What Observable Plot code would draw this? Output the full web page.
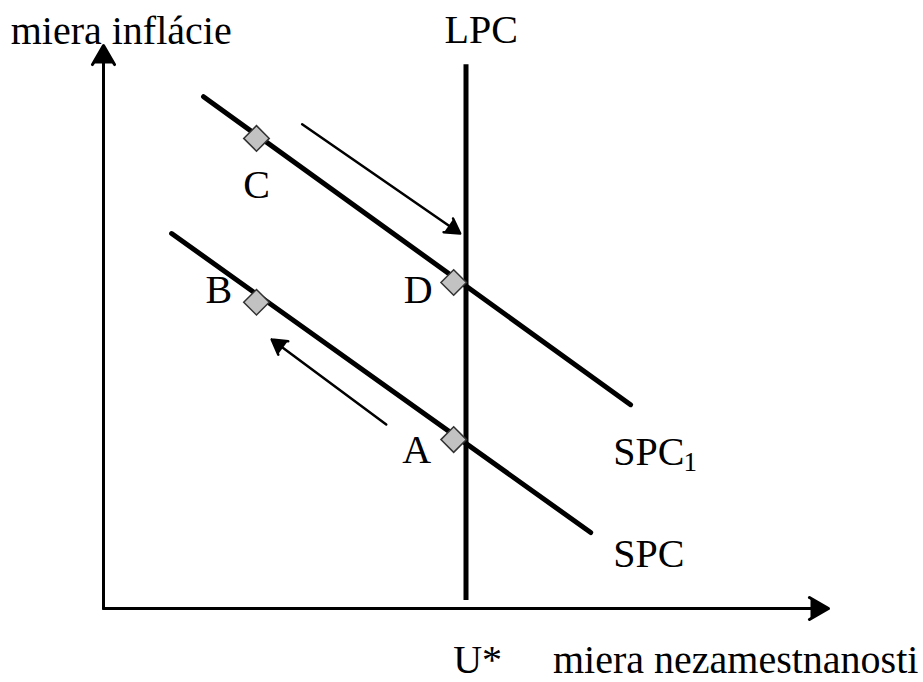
<!DOCTYPE html>
<html>
<head>
<meta charset="utf-8">
<script src="https://cdn.jsdelivr.net/npm/d3@7"></script>
<script src="https://cdn.jsdelivr.net/npm/@observablehq/plot@0.6"></script>
<style>
  html, body { margin: 0; padding: 0; background: #fff; }
  #chart svg { display: block; }
</style>
</head>
<body>
<div id="chart"></div>
<script>
// ---- data (conceptual units: unemployment on x, inflation on y, origin at axis corner) ----
const xDomain = [0, 10];
const yDomain = [0, 10];

const axisSegments = [
  {x1: 0, y1: 0, x2: 10, y2: 0},
  {x1: 0, y1: 0, x2: 0, y2: 10}
];
const lpcLine = [{x: 5.0, y1: 0.14, y2: 9.66}];
const spc1Line = [{x: 1.38, y: 9.09}, {x: 7.27, y: 3.62}];
const spcLine = [{x: 0.94, y: 6.66}, {x: 6.72, y: 1.35}];
const pointNames = ["A", "B", "C", "D"];
const pointX = [4.83, 2.11, 2.11, 4.83];
const pointY = [3.00, 5.44, 8.35, 5.79];
const pointLabelX = [4.32, 1.59, 2.11, 4.34];
const pointLabelY = [2.81, 5.65, 7.51, 5.65];
const moveArrows = [
  {x1: 2.74, y1: 8.60, x2: 4.92, y2: 6.66},
  {x1: 3.90, y1: 3.27, x2: 2.32, y2: 4.78}
];
const curveLabels = [
  {text: "LPC", x: 5.21, y: 10.28, anchor: "middle", size: 40},
  {text: "SPC", x: 7.03, y: 2.77, anchor: "start", size: 40},
  {text: "SPC", x: 7.03, y: 0.96, anchor: "start", size: 40},
  {text: "U*", x: 5.16, y: -0.92, anchor: "middle", size: 40},
  {text: "miera inflácie", x: -1.28, y: 10.25, anchor: "start", size: 40},
  {text: "miera nezamestnanosti", x: 6.20, y: -0.92, anchor: "start", size: 40}
];
const subscripts = [{text: "1", x: 8.0, y: 2.59}];

// ---- layout ----
const W = 923, H = 682;
const margin = {top: 45, right: 95, bottom: 74, left: 103};
const kx = (W - margin.left - margin.right) / (xDomain[1] - xDomain[0]);
const ky = (H - margin.top - margin.bottom) / (yDomain[1] - yDomain[0]);

// filled arrowhead (triangle) placed so its tip sits at the segment end
function head(s, h) {
  const dx = (s.x2 - s.x1) * kx, dy = -(s.y2 - s.y1) * ky;
  const L = Math.hypot(dx, dy), ux = dx / L, uy = dy / L;
  const back = 2 * h / 3;
  return {
    x: s.x2 - ux * back / kx,
    y: s.y2 + uy * back / ky,
    rotate: 90 + Math.atan2(dy, dx) * 180 / Math.PI
  };
}
const triR = h => Math.sqrt(h * h / Math.sqrt(3) / Math.PI);
const axisHeads = axisSegments.map(s => head(s, 18));
const moveHeads = moveArrows.map(s => head(s, 14));

const points = pointNames.map((n, i) => ({name: n, x: pointX[i], y: pointY[i], lx: pointLabelX[i], ly: pointLabelY[i]}));

const font = "'Liberation Serif', 'Times New Roman', serif";

const textMarks = curveLabels.map(d =>
  Plot.text([d], {x: "x", y: "y", text: "text", fontSize: d.size, fill: "#000", textAnchor: d.anchor, lineAnchor: "middle"})
);

const chart = Plot.plot({
  width: W,
  height: H,
  marginTop: margin.top,
  marginRight: margin.right,
  marginBottom: margin.bottom,
  marginLeft: margin.left,
  style: {fontFamily: font, background: "#fff", overflow: "visible"},
  x: {domain: xDomain, axis: null},
  y: {domain: yDomain, axis: null},
  marks: [
    Plot.arrow(axisSegments, {x1: "x1", y1: "y1", x2: "x2", y2: "y2", stroke: "#000", strokeWidth: 3, headLength: 11, headAngle: 60}),
    Plot.dot(axisHeads, {x: "x", y: "y", r: triR(18), rotate: "rotate", symbol: "triangle", fill: "#000", stroke: "none"}),
    Plot.ruleX(lpcLine, {x: "x", y1: "y1", y2: "y2", stroke: "#000", strokeWidth: 5}),
    Plot.line(spc1Line, {x: "x", y: "y", stroke: "#000", strokeWidth: 5}),
    Plot.line(spcLine, {x: "x", y: "y", stroke: "#000", strokeWidth: 5}),
    Plot.arrow(moveArrows, {x1: "x1", y1: "y1", x2: "x2", y2: "y2", stroke: "#000", strokeWidth: 2.5, headLength: 10, headAngle: 60}),
    Plot.dot(moveHeads, {x: "x", y: "y", r: triR(14), rotate: "rotate", symbol: "triangle", fill: "#000", stroke: "none"}),
    Plot.dot(points, {x: "x", y: "y", symbol: "diamond2", r: 11.5, fill: "#c2c2c2", stroke: "#333", strokeWidth: 1.5}),
    Plot.text(points, {x: "lx", y: "ly", text: "name", fontSize: 40, fill: "#000", textAnchor: "middle", lineAnchor: "middle"}),
    ...textMarks,
    Plot.text(subscripts, {x: "x", y: "y", text: "text", fontSize: 27, fill: "#000", textAnchor: "start", lineAnchor: "middle"})
  ]
});
document.getElementById("chart").appendChild(chart);
</script>
</body>
</html>
